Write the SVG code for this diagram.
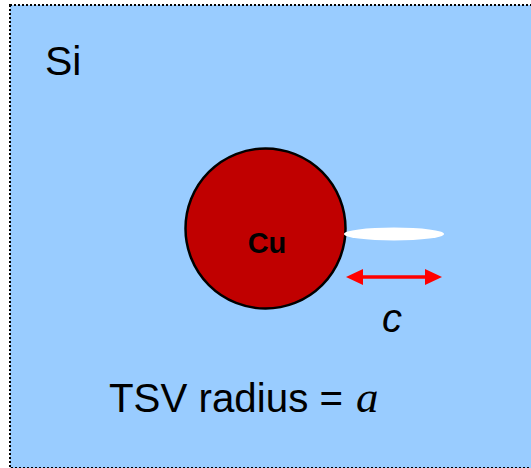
<svg xmlns="http://www.w3.org/2000/svg" width="531" height="468" viewBox="0 0 531 468">
<style>
.lbl{font-family:"Liberation Sans",Arial,sans-serif;fill:#000}
</style>
<rect x="0" y="0" width="531" height="468" fill="#ffffff"/>
<g id="si">
<rect x="10" y="5" width="540" height="463" fill="#99CCFF" stroke="#000" stroke-width="2" stroke-dasharray="2 2"/>
<text class="lbl" x="45" y="75" font-size="41">Si</text>
</g>
<g id="cu">
<circle cx="265.5" cy="228.5" r="80" fill="#C00000" stroke="#000" stroke-width="2.5"/>
<text class="lbl" x="267" y="253" font-size="29" font-weight="bold" text-anchor="middle">Cu</text>
</g>
<g id="crack">
<ellipse cx="394" cy="234" rx="50" ry="6.5" fill="#ffffff"/>
</g>
<g id="connectors">
<line x1="360" y1="277" x2="428" y2="277" stroke="#FF0000" stroke-width="3.5"/>
<polygon points="346,277 363,269 363,285" fill="#FF0000"/>
<polygon points="442,277 425,269 425,285" fill="#FF0000"/>
</g>
<text class="lbl" x="382" y="332" font-size="40" font-style="italic">c</text>
<text class="lbl" x="109" y="412" font-size="40" textLength="234" lengthAdjust="spacingAndGlyphs">TSV radius =</text>
<text x="356" y="412" font-family="'Liberation Serif','Times New Roman',serif" font-size="45" font-style="italic">a</text>
</svg>
